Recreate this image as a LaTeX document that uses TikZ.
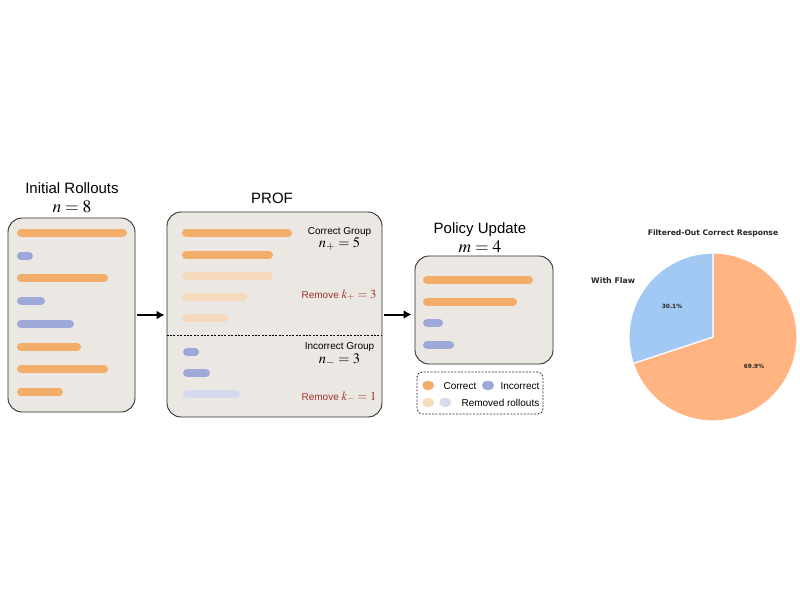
\documentclass[tikz,border=0pt]{standalone}
\usepackage{mathptmx}
\usepackage[no-math]{fontspec}
\setmainfont{Liberation Sans}
\newfontfamily\piefont{DejaVu Sans}
\usetikzlibrary{arrows.meta}

\definecolor{boxfill}{HTML}{EBE7E3}
\definecolor{boxline}{HTML}{2E2E2E}
\definecolor{corr}{HTML}{F2AD6A}
\definecolor{corrlight}{HTML}{F6DABD}
\definecolor{incorr}{HTML}{9EA8D9}
\definecolor{incorrlight}{HTML}{D6DAEC}
\definecolor{removered}{HTML}{A3322B}
\definecolor{pieblue}{HTML}{A1C9F4}
\definecolor{pieorange}{HTML}{FFB482}
\definecolor{pietext}{HTML}{262626}

\tikzset{
  panel/.style={draw=boxline, line width=0.9pt, fill=boxfill, rounded corners=14pt, inner sep=0pt},
  bar/.style={line width=8.5pt, line cap=round},
  swatch/.style={line width=9pt, line cap=round},
  flow/.style={line width=2pt, -{Latex[length=8pt,width=9pt]}},
  title/.style={font=\fontsize{15}{15}\selectfont, anchor=base},
  mathlbl/.style={font=\fontsize{17.5}{17.5}\selectfont, anchor=base},
  grp/.style={font=\fontsize{10}{10}\selectfont, anchor=base},
  grpmath/.style={font=\fontsize{14.5}{14.5}\selectfont, anchor=base},
  rm/.style={font=\fontsize{10}{10}\selectfont, text=removered, anchor=base},
  legtext/.style={font=\fontsize{10}{10}\selectfont, anchor=base west},
  piebold/.style={font=\piefont\bfseries, text=pietext}
}

% one rollout bar: colour, left end, right end, height (y measured downward)
\newcommand{\rbar}[4]{\draw[bar,#1] (#2+4.25,-#4) -- (#3-4.25,-#4);}

\begin{document}
\begin{tikzpicture}[x=1pt,y=1pt]
\useasboundingbox[fill=white] (0,0) rectangle (800,-600);

% ---- panels ----
\node[panel, minimum width=127pt, minimum height=194pt] (init) at (71.5,-315) {};
\node[panel, minimum width=215pt, minimum height=205pt] (prof) at (274.5,-314.5) {};
\node[panel, minimum width=138pt, minimum height=108pt] (policy) at (484,-310) {};

% ---- titles ----
\node[title] (initT) at (72,-193) {Initial Rollouts};
\node[mathlbl] (initN) at (72,-212) {$n=8$};
\node[title] (profT) at (272,-203) {PROF};
\node[title] (polT) at (480,-233) {Policy Update};
\node[mathlbl] (polM) at (480,-252) {$m=4$};

% ---- flow arrows ----
\draw[flow] ([xshift=2pt]init.east) -- ([xshift=-2pt]prof.west |- init.east);
\draw[flow] ([xshift=2pt]prof.east) -- ([xshift=-3pt]policy.west |- prof.east);

% ---- initial rollouts ----
\rbar{corr}{17}{127}{233}
\rbar{incorr}{17}{33}{256}
\rbar{corr}{17}{108}{278}
\rbar{incorr}{17}{45}{301}
\rbar{incorr}{17}{74}{324}
\rbar{corr}{17}{81}{347}
\rbar{corr}{17}{108}{369}
\rbar{corr}{17}{63}{392}

% ---- PROF groups ----
\draw[line width=0.8pt, dash pattern=on 2pt off 1.4pt] (prof.west |- 0,-335) -- (prof.east |- 0,-335);
\rbar{corr}{182}{292}{233}
\rbar{corr}{182}{273}{255}
\rbar{corrlight}{182}{273}{276}
\rbar{corrlight}{182}{247}{297}
\rbar{corrlight}{182}{228}{318}
\rbar{incorr}{183}{199}{352}
\rbar{incorr}{183}{210}{373}
\rbar{incorrlight}{183}{240}{394}

\node[grp] (cg) at (339.5,-234) {Correct Group};
\node[grpmath] (np) at (339.5,-247) {$n_+=5$};
\node[rm] (rp) at (339,-298) {Remove {\fontsize{12.5}{12.5}\selectfont$k_+=3$}};
\node[grp] (ig) at (339.5,-349) {Incorrect Group};
\node[grpmath] (nm) at (339.5,-363) {$n_-=3$};
\node[rm] (rmn) at (339,-400) {Remove {\fontsize{12.5}{12.5}\selectfont$k_-=1$}};

% ---- policy update ----
\rbar{corr}{423}{533}{280}
\rbar{corr}{423}{517}{302}
\rbar{incorr}{423}{443}{323}
\rbar{incorr}{423}{454}{345}

% ---- legend ----
\node[draw=boxline, line width=0.8pt, dash pattern=on 2pt off 1.4pt, rounded corners=5pt,
      minimum width=126pt, minimum height=42pt, inner sep=0pt] (legend) at (480,-393) {};
\draw[swatch,corr] (427,-385) -- (429.5,-385);
\node[legtext] (lc) at (440,-389) {Correct};
\draw[swatch,incorr] (486.5,-385) -- (489.5,-385);
\node[legtext] (li) at (497,-389) {Incorrect};
\draw[swatch,corrlight] (427,-402) -- (429.5,-402);
\draw[swatch,incorrlight] (444,-402) -- (446.5,-402);
\node[legtext] (lr) at (458,-406) {Removed rollouts};

% ---- pie chart ----
\coordinate (pc) at (713,-337);
\fill[pieorange, draw=white, line width=1.2pt] (pc) -- ++(198.36:84pt)
  arc[start angle=198.36, end angle=450, radius=84pt] -- cycle;
\fill[pieblue, draw=white, line width=1.2pt] (pc) -- ++(90:84pt)
  arc[start angle=90, end angle=198.36, radius=84pt] -- cycle;
\node[piebold, font=\piefont\bfseries\fontsize{7.6}{8}\selectfont] (pieT) at (713,-233) {Filtered-Out Correct Response};
\node[piebold, font=\piefont\bfseries\fontsize{7.8}{8}\selectfont, anchor=east] (flaw) at (638.5,-281) {With Flaw};
\node[piebold, font=\piefont\bfseries\fontsize{5.8}{6}\selectfont] (p1) at (672,-306.5) {30.1\%};
\node[piebold, font=\piefont\bfseries\fontsize{5.8}{6}\selectfont] (p2) at (754,-366) {69.9\%};
\end{tikzpicture}
\end{document}
